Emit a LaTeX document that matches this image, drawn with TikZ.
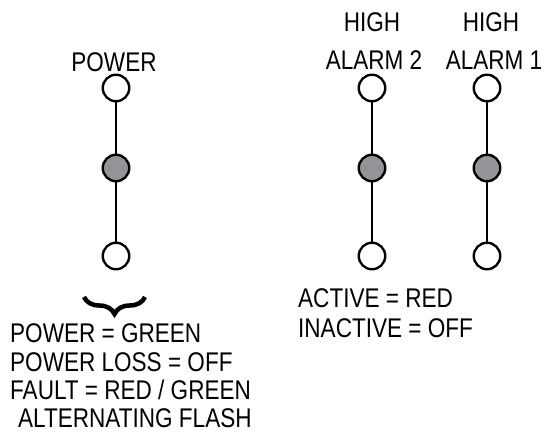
\documentclass[tikz,border=0pt]{standalone}
\usepackage{fontspec}
\setmainfont{Liberation Sans}[FakeStretch=0.835]
\usetikzlibrary{decorations.pathreplacing}
\definecolor{ledgray}{RGB}{147,149,152}
\begin{document}
\begin{tikzpicture}[x=1pt,y=-1pt,
  led/.style={circle,draw=black,line width=2.4pt,minimum size=26.5pt,inner sep=0pt,fill=white},
  ledon/.style={led,fill=ledgray},
  wire/.style={line width=2.4pt,black},
  lbl/.style={inner sep=0pt,anchor=base,font=\fontsize{27}{30}\selectfont},
  txt/.style={inner sep=0pt,anchor=base west,font=\fontsize{27}{30}\selectfont}]
\useasboundingbox (0,0) rectangle (544,435);
% POWER column
\node[led]   (p1) at (116,88) {};
\node[ledon] (p2) at (116,168) {};
\node[led]   (p3) at (116,256) {};
\draw[wire] (p1) -- (p2);
\draw[wire] (p2) -- (p3);
% HIGH ALARM 2
\node[led]   (a1) at (372,88) {};
\node[ledon] (a2) at (372,168) {};
\node[led]   (a3) at (372,256) {};
\draw[wire] (a1) -- (a2);
\draw[wire] (a2) -- (a3);
% HIGH ALARM 1
\node[led]   (b1) at (487,88) {};
\node[ledon] (b2) at (487,168) {};
\node[led]   (b3) at (487,256) {};
\draw[wire] (b1) -- (b2);
\draw[wire] (b2) -- (b3);
% labels
\node[lbl] (lp) at (114,72) {POWER};
\node[lbl] (lh2) at (372,32) {HIGH};
\node[lbl] (la2) at (374,70) {ALARM 2};
\node[lbl] (lh1) at (491,32) {HIGH};
\node[lbl] (la1) at (494,70) {ALARM 1};
% brace
\coordinate (bl) at (84,297);
\coordinate (br) at (145,297);
\draw[line width=4.5pt,decorate,decoration={brace,mirror,amplitude=17pt}] (bl) -- (br);
% left text
\node[txt] (t1) at (10,343) {POWER = GREEN};
\node[txt] (t2) at (10,372) {POWER LOSS = OFF};
\node[txt] (t3) at (10,400) {FAULT = RED / GREEN};
\node[txt] (t4) at (18,428) {ALTERNATING FLASH};
% right text
\node[txt] (r1) at (298,308) {ACTIVE = RED};
\node[txt] (r2) at (298,338) {INACTIVE = OFF};
\end{tikzpicture}
\end{document}
